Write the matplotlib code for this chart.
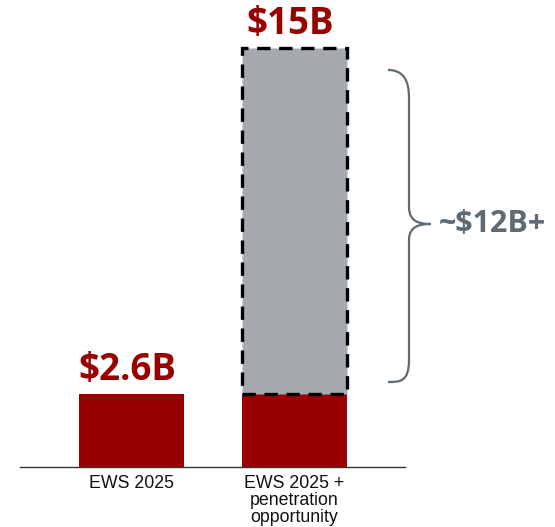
import matplotlib
matplotlib.use("Agg")
import matplotlib.pyplot as plt
from matplotlib.path import Path
from matplotlib.patches import PathPatch
import matplotlib.transforms as mtransforms

categories = ["EWS 2025", "EWS 2025 +\npenetration\nopportunity"]
base_values = [2.6, 2.6]
opportunity_values = [0, 12.4]
total_labels = ["$2.6B", "$15B"]
brace_label = "~$12B+"

RED = "#990000"
GRAY = "#a4aaad"
SLATE = "#5f6b74"

W, H = 555, 527
fig = plt.figure(figsize=(W / 100, H / 100), dpi=100)
ax = fig.add_axes([20 / W, 60 / H, 385 / W, 467 / H])

x = [0, 1]
width = 0.65
ax.bar(x, base_values, width=width, color=RED, zorder=2)
totals = [b + o for b, o in zip(base_values, opportunity_values)]
ax.bar(x[1], opportunity_values[1], bottom=base_values[1], width=width,
       color=GRAY, edgecolor="black", linewidth=2.4, linestyle=(0, (4, 2.6)), zorder=3)

shift = mtransforms.ScaledTranslation(-4 / 100, 0, fig.dpi_scale_trans)
for xi, t, lab in zip(x, totals, total_labels):
    ax.text(xi, t + 0.5, lab, ha="center", va="baseline", color=RED,
            fontsize=26.5, fontweight="bold", family=["Open Sans", "DejaVu Sans"],
            transform=ax.transData + shift)

ax.set_xlim(-0.684, 1.678)
ax.set_ylim(0, 16.72)
ax.set_xticks(x)
ax.set_xticklabels(categories, fontsize=12.8, family=["Liberation Sans", "DejaVu Sans"],
                   color="#111111", linespacing=0.98)
ax.tick_params(axis="x", length=0, pad=6)
ax.set_yticks([])
for s in ["top", "right", "left"]:
    ax.spines[s].set_visible(False)
ax.spines["bottom"].set_color("#333333")
ax.spines["bottom"].set_linewidth(1.0)

# Brace in pixel coordinates (origin top-left)
def px(xp, yp):
    return (xp, H - yp)

verts = [
    px(388, 70), px(409, 70), px(409, 90), px(409, 100),
    px(409, 207),
    px(409, 222), px(420, 224), px(431, 224),
    px(420, 224), px(409, 226), px(409, 240),
    px(409, 360),
    px(409, 382), px(400, 382), px(388, 382),
]
codes = [Path.MOVETO, Path.CURVE4, Path.CURVE4, Path.CURVE4,
         Path.LINETO,
         Path.CURVE4, Path.CURVE4, Path.CURVE4,
         Path.CURVE4, Path.CURVE4, Path.CURVE4,
         Path.LINETO,
         Path.CURVE4, Path.CURVE4, Path.CURVE4]
brace = PathPatch(Path(verts, codes), fill=False, edgecolor=SLATE, linewidth=1.6,
                  transform=mtransforms.IdentityTransform())
fig.add_artist(brace)

fig.text(439 / W, 1 - 224 / H, brace_label, ha="left", va="center", color=SLATE,
         fontsize=22, fontweight="bold", family=["Open Sans", "DejaVu Sans"])

fig.savefig("out.png", dpi=100)
